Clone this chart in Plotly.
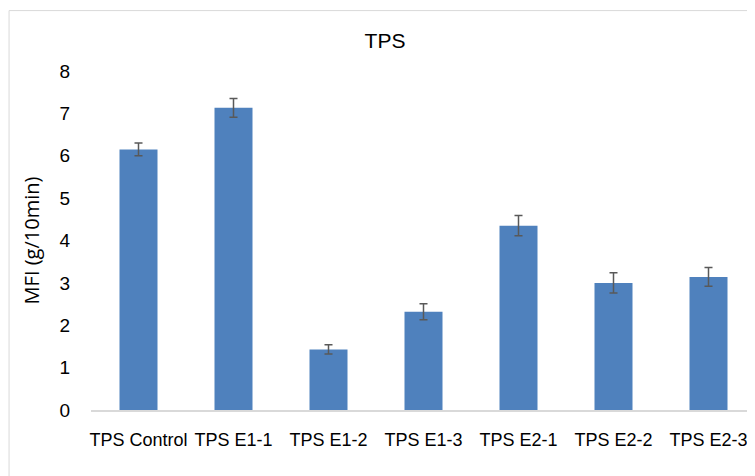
import plotly.graph_objects as go

categories = ["TPS Control", "TPS E1-1", "TPS E1-2", "TPS E1-3", "TPS E2-1", "TPS E2-2", "TPS E2-3"]
mfi_values = [6.15, 7.13, 1.43, 2.32, 4.35, 3.00, 3.14]
mfi_errors = [0.15, 0.22, 0.11, 0.19, 0.24, 0.24, 0.22]
y_ticks = [0, 1, 2, 3, 4, 5, 6, 7, 8]

W, H = 755, 476
L, T, B, R = 82.5, 63, 73.5, 7
PH = H - T - B
PW = W - L - R

fig = go.Figure()
fig.add_trace(go.Bar(
    x=categories, y=mfi_values,
    marker=dict(color="#4f81bd", line=dict(color="#4f81bd", width=0)),
    error_y=dict(type="data", array=mfi_errors, visible=True,
                 color="#595959", thickness=1.5, width=4),
))

fig.update_layout(
    width=W, height=H,
    margin=dict(l=L, r=R, t=T, b=B),
    paper_bgcolor="white", plot_bgcolor="white",
    bargap=0.6,
    showlegend=False,
    title=dict(text="TPS", x=377 / W, xanchor="center", y=1 - 33 / H, yanchor="middle",
               font=dict(family="Liberation Sans, sans-serif", size=21, color="#000000")),
    font=dict(family="Liberation Sans, sans-serif", color="#000000"),
    xaxis=dict(
        type="category", range=[-0.5, 6.5], automargin=False,
        showline=True, linecolor="#d9d9d9", linewidth=2,
        ticks="", showgrid=False,
        tickfont=dict(size=18, color="#000000"),
        ticklabelstandoff=12,
    ),
    yaxis=dict(
        range=[0, 8], tickvals=y_ticks, automargin=False,
        showgrid=False, zeroline=False, showline=False, ticks="",
        tickfont=dict(size=19, color="#000000"),
        ticklabelstandoff=20,
        title=dict(text="MFI (g/10min)", standoff=14,
                   font=dict(family="Open Sans, DejaVu Sans, sans-serif", size=20, color="#000000")),
    ),
)

fig.add_shape(type="rect", xref="paper", yref="paper",
              x0=(0.5 - L) / PW, x1=1.05,
              y0=-0.4, y1=(H - B - 2.5) / PH,
              line=dict(color="#d9d9d9", width=1), fillcolor="rgba(0,0,0,0)", layer="below")

fig.write_html("out.html")
